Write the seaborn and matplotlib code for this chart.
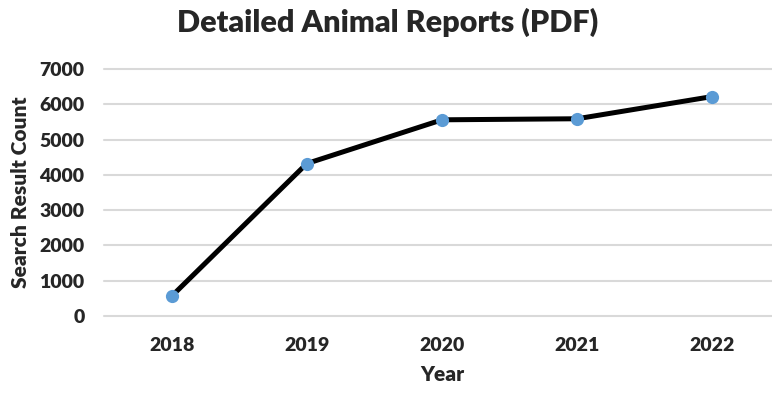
import matplotlib
matplotlib.use("Agg")
import matplotlib.pyplot as plt
import seaborn as sns
import pandas as pd

# Yearly search result counts
years = ["2018", "2019", "2020", "2021", "2022"]
counts = [560, 4320, 5560, 5590, 6220]
y_ticks = [0, 1000, 2000, 3000, 4000, 5000, 6000, 7000]

sns.set_theme(style="white")
plt.rcParams["font.family"] = ["Lato", "DejaVu Sans"]

df = pd.DataFrame({"Year": years, "Count": counts})

fig = plt.figure(figsize=(7.72, 3.93), dpi=100)
ax = fig.add_axes([104 / 772, 77 / 393, 676 / 772, 247 / 393])

sns.lineplot(data=df, x="Year", y="Count", ax=ax, color="black", linewidth=3.6,
             marker="o", markersize=9.5, markerfacecolor="#5B9BD5",
             markeredgecolor="#5B9BD5", markeredgewidth=0, clip_on=False)

ax.set_xlim(-0.5, 4.5)
ax.set_ylim(0, 7000)
ax.set_yticks(y_ticks)
ax.yaxis.grid(True, color="#D9D9D9", linewidth=1.5)
ax.set_axisbelow(True)
for s in ax.spines.values():
    s.set_visible(False)
for gl in ax.get_ygridlines():
    gl.set_clip_on(False)

ax.tick_params(axis="y", length=0, pad=14, labelsize=14)
ax.tick_params(axis="x", length=0, pad=15, labelsize=14)
for lbl in ax.get_xticklabels() + ax.get_yticklabels():
    lbl.set_fontweight("heavy")

ax.set_xlabel("Year", fontsize=15, fontweight="heavy", labelpad=8)
ax.set_ylabel("Search Result Count", fontsize=15, fontweight="heavy", labelpad=7)
fig.text(388 / 772, 1 - 22 / 393, "Detailed Animal Reports (PDF)", ha="center",
         va="center", fontsize=22, fontweight="heavy")

fig.savefig("out.png", dpi=100)
